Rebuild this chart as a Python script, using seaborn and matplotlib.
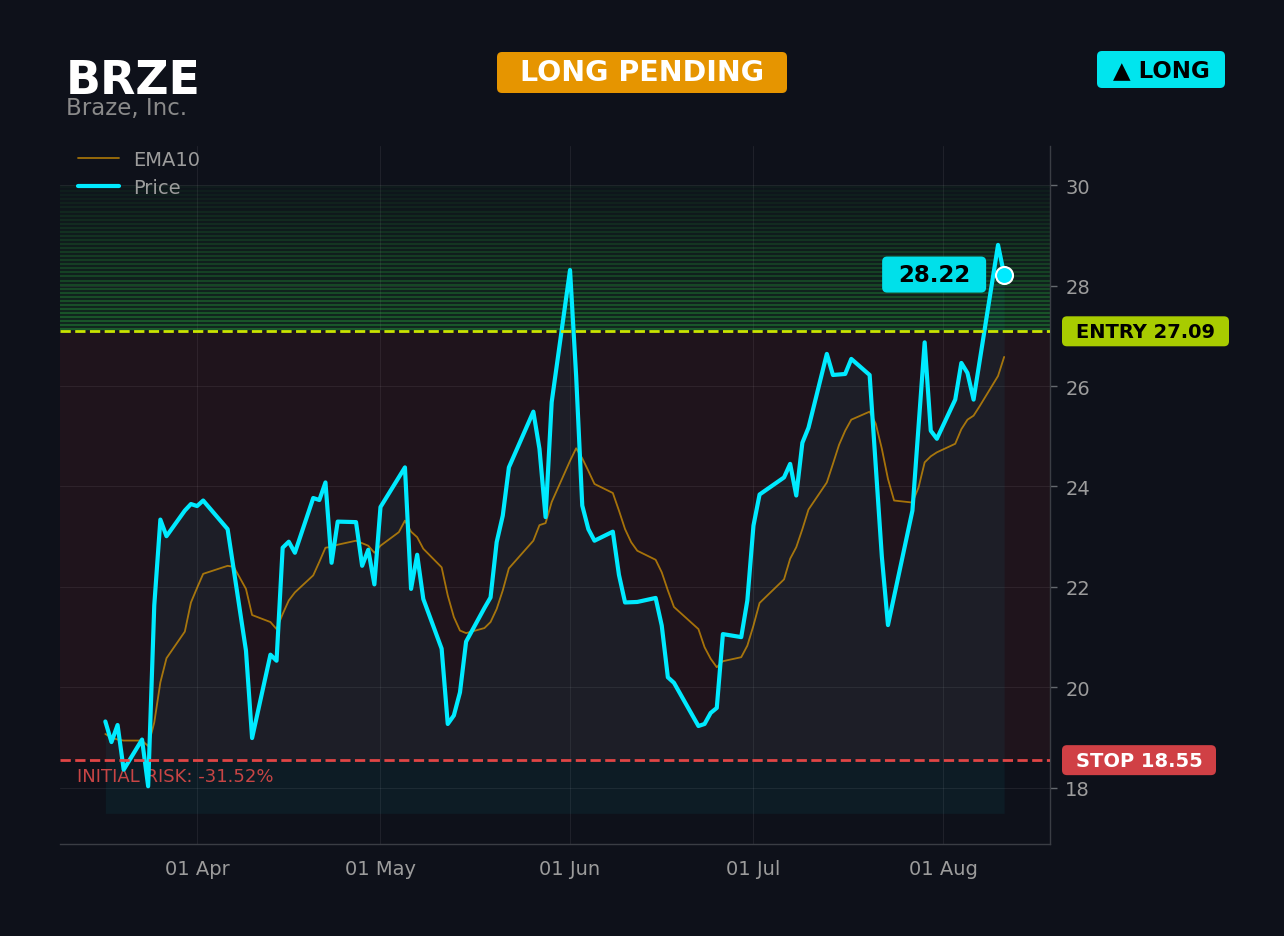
import numpy as np
import pandas as pd
import matplotlib
matplotlib.use("Agg")
import matplotlib.pyplot as plt
import matplotlib.dates as mdates
from matplotlib.patches import FancyBboxPatch
from matplotlib.transforms import IdentityTransform, blended_transform_factory
import seaborn as sns

# --------------------------------------------------
# Data
# --------------------------------------------------
TICKER = "BRZE"
COMPANY = "Braze, Inc."
STATUS = "LONG PENDING"
SIDE = "▲ LONG"
ENTRY = 27.09
STOP = 18.55
TARGET_TOP = 30.0

price_dates = [
    "2026-03-17", "2026-03-18", "2026-03-19", "2026-03-20", "2026-03-23",
    "2026-03-24", "2026-03-25", "2026-03-26", "2026-03-27", "2026-03-30",
    "2026-03-31", "2026-04-01", "2026-04-02", "2026-04-06", "2026-04-09",
    "2026-04-10", "2026-04-13", "2026-04-14", "2026-04-15", "2026-04-16",
    "2026-04-17", "2026-04-20", "2026-04-21", "2026-04-22", "2026-04-23",
    "2026-04-24", "2026-04-27", "2026-04-28", "2026-04-29", "2026-04-30",
    "2026-05-01", "2026-05-05", "2026-05-06", "2026-05-07", "2026-05-08",
    "2026-05-11", "2026-05-12", "2026-05-13", "2026-05-14", "2026-05-15",
    "2026-05-18", "2026-05-19", "2026-05-20", "2026-05-21", "2026-05-22",
    "2026-05-26", "2026-05-27", "2026-05-28", "2026-05-29", "2026-06-01",
    "2026-06-02", "2026-06-03", "2026-06-04", "2026-06-05", "2026-06-08",
    "2026-06-09", "2026-06-10", "2026-06-12", "2026-06-15", "2026-06-16",
    "2026-06-17", "2026-06-18", "2026-06-22", "2026-06-23", "2026-06-24",
    "2026-06-25", "2026-06-26", "2026-06-29", "2026-06-30", "2026-07-01",
    "2026-07-02", "2026-07-06", "2026-07-07", "2026-07-08", "2026-07-09",
    "2026-07-10", "2026-07-13", "2026-07-14", "2026-07-16", "2026-07-17",
    "2026-07-20", "2026-07-22", "2026-07-23", "2026-07-27", "2026-07-29",
    "2026-07-30", "2026-07-31", "2026-08-03", "2026-08-04", "2026-08-05",
    "2026-08-06", "2026-08-10", "2026-08-11",
]
price_values = [
    19.32, 18.91, 19.25, 18.36, 18.96,
    18.03, 21.63, 23.34, 23.01, 23.52,
    23.65, 23.61, 23.72, 23.15, 20.73,
    18.99, 20.65, 20.53, 22.78, 22.90,
    22.68, 23.77, 23.73, 24.08, 22.48,
    23.30, 23.29, 22.42, 22.74, 22.05,
    23.59, 24.38, 21.96, 22.64, 21.76,
    20.77, 19.27, 19.44, 19.90, 20.91,
    21.58, 21.79, 22.89, 23.42, 24.38,
    25.49, 24.75, 23.39, 25.68, 28.31,
    26.20, 23.62, 23.15, 22.92, 23.10,
    22.24, 21.69, 21.70, 21.78, 21.23,
    20.20, 20.09, 19.23, 19.27, 19.49,
    19.59, 21.06, 21.00, 21.73, 23.22,
    23.84, 24.18, 24.45, 23.82, 24.87,
    25.17, 26.64, 26.22, 26.24, 26.54,
    26.22, 22.60, 21.24, 23.52, 26.87,
    25.11, 24.95, 25.73, 26.46, 26.26,
    25.73, 28.81, 28.22,
]

ema_dates = [
    "2026-03-17", "2026-03-18", "2026-03-19", "2026-03-20", "2026-03-23",
    "2026-03-24", "2026-03-25", "2026-03-26", "2026-03-27", "2026-03-30",
    "2026-03-31", "2026-04-01", "2026-04-02", "2026-04-06", "2026-04-07",
    "2026-04-08", "2026-04-09", "2026-04-10", "2026-04-13", "2026-04-14",
    "2026-04-15", "2026-04-16", "2026-04-17", "2026-04-20", "2026-04-21",
    "2026-04-22", "2026-04-23", "2026-04-24", "2026-04-27", "2026-04-28",
    "2026-04-29", "2026-04-30", "2026-05-01", "2026-05-04", "2026-05-05",
    "2026-05-06", "2026-05-07", "2026-05-08", "2026-05-11", "2026-05-12",
    "2026-05-13", "2026-05-14", "2026-05-15", "2026-05-18", "2026-05-19",
    "2026-05-20", "2026-05-21", "2026-05-22", "2026-05-26", "2026-05-27",
    "2026-05-28", "2026-05-29", "2026-06-01", "2026-06-02", "2026-06-03",
    "2026-06-04", "2026-06-05", "2026-06-08", "2026-06-09", "2026-06-10",
    "2026-06-11", "2026-06-12", "2026-06-15", "2026-06-16", "2026-06-17",
    "2026-06-18", "2026-06-22", "2026-06-23", "2026-06-24", "2026-06-25",
    "2026-06-26", "2026-06-29", "2026-06-30", "2026-07-01", "2026-07-02",
    "2026-07-06", "2026-07-07", "2026-07-08", "2026-07-09", "2026-07-10",
    "2026-07-13", "2026-07-14", "2026-07-15", "2026-07-16", "2026-07-17",
    "2026-07-20", "2026-07-21", "2026-07-22", "2026-07-23", "2026-07-24",
    "2026-07-27", "2026-07-28", "2026-07-29", "2026-07-30", "2026-07-31",
    "2026-08-03", "2026-08-04", "2026-08-05", "2026-08-06", "2026-08-07",
    "2026-08-10", "2026-08-11",
]
ema_values = [
    19.07, 19.00, 18.96, 18.94, 18.94,
    18.83, 19.30, 20.10, 20.58, 21.11,
    21.69, 21.98, 22.26, 22.42, 22.40,
    22.18, 21.96, 21.44, 21.30, 21.16,
    21.46, 21.73, 21.89, 22.23, 22.50,
    22.78, 22.80, 22.84, 22.92, 22.87,
    22.82, 22.68, 22.82, 23.09, 23.32,
    23.10, 22.99, 22.76, 22.39, 21.83,
    21.40, 21.13, 21.08, 21.18, 21.30,
    21.56, 21.93, 22.37, 22.92, 23.23,
    23.27, 23.69, 24.51, 24.76, 24.56,
    24.31, 24.05, 23.87, 23.52, 23.15,
    22.89, 22.72, 22.54, 22.29, 21.93,
    21.60, 21.16, 20.80, 20.57, 20.40,
    20.52, 20.60, 20.83, 21.23, 21.68,
    22.15, 22.56, 22.79, 23.15, 23.54,
    24.08, 24.45, 24.83, 25.11, 25.33,
    25.49, 25.25, 24.75, 24.15, 23.72,
    23.68, 23.98, 24.48, 24.60, 24.68,
    24.85, 25.14, 25.33, 25.41, 25.60,
    26.20, 26.58,
]

# --------------------------------------------------
# Style
# --------------------------------------------------
BG = "#0e111a"
CYAN = "#00eaff"
EMA_COLOR = "#f0a500"
ENTRY_COLOR = "#c8e400"
STOP_COLOR = "#e04545"
TEXT_GRAY = "#9c9c9c"
FILL_BASE = 17.49

sns.set_theme(style="dark")
plt.rcParams["font.family"] = ["DejaVu Sans"]

price_df = pd.DataFrame({"date": pd.to_datetime(price_dates), "price": price_values})
ema_df = pd.DataFrame({"date": pd.to_datetime(ema_dates), "ema": ema_values})

W, H = 1284, 937
fig = plt.figure(figsize=(W / 100, H / 100), dpi=100, facecolor=BG)
ax = fig.add_axes([60 / W, 92 / H, 990 / W, 698 / H])
ax.set_facecolor(BG)

ax.set_xlim(pd.Timestamp("2026-03-09 14:00"), pd.Timestamp("2026-08-18 12:00"))
ax.set_ylim(16.88, 30.78)

# zones
ax.axhspan(STOP, ENTRY, color="#ff4040", alpha=0.07, lw=0, zorder=0.6)
n_stripes = 36
step = (TARGET_TOP - ENTRY) / n_stripes
for i in range(n_stripes):
    frac = 1 - i / n_stripes
    y0 = ENTRY + i * step
    ax.axhspan(y0, y0 + step, color="#2fd046", alpha=0.02 + 0.10 * frac, lw=0, zorder=0.6)
    ax.axhline(y0 + step * 0.5, color="#2fd046", alpha=0.03 + 0.30 * frac, lw=1.3, zorder=0.7)

# area under price
ax.fill_between(price_df["date"], price_df["price"], FILL_BASE,
                color=CYAN, alpha=0.05, lw=0, zorder=1)

# lines
sns.lineplot(data=ema_df, x="date", y="ema", ax=ax, color=EMA_COLOR, alpha=0.65,
             lw=1.3, label="EMA10", zorder=3)
sns.lineplot(data=price_df, x="date", y="price", ax=ax, color=CYAN,
             lw=3, label="Price", zorder=4)

ax.axhline(ENTRY, color=ENTRY_COLOR, ls="--", lw=2, zorder=5)
ax.axhline(STOP, color=STOP_COLOR, ls="--", lw=2, zorder=5)

last_date = price_df["date"].iloc[-1]
last_price = price_df["price"].iloc[-1]
ax.scatter([last_date], [last_price], s=150, color=CYAN, edgecolor="white",
           linewidth=1.5, zorder=7)

# risk text
risk = (STOP - ENTRY) / ENTRY * 100
trans = blended_transform_factory(ax.transAxes, ax.transData)
ax.annotate(f"INITIAL RISK: {risk:.2f}%", xy=(0.017, STOP), xycoords=trans,
            xytext=(0, -5), textcoords="offset points", va="top", ha="left",
            color="#c84545", fontsize=13)

# axes cosmetics
ax.set_xlabel("")
ax.set_ylabel("")
ax.yaxis.tick_right()
ax.set_yticks(np.arange(18, 31, 2))
ax.xaxis.set_major_locator(mdates.MonthLocator())
ax.xaxis.set_major_formatter(mdates.DateFormatter("%d %b"))
ax.tick_params(axis="both", colors="#666a70", labelcolor=TEXT_GRAY,
               labelsize=14, length=5, width=1, pad=6)
ax.tick_params(axis="y", left=False, right=True)
ax.grid(True, color="white", alpha=0.07, lw=0.8)
for side in ["left", "top"]:
    ax.spines[side].set_visible(False)
for side in ["right", "bottom"]:
    ax.spines[side].set_visible(True)
    ax.spines[side].set_color("#3a3d44")
    ax.spines[side].set_linewidth(1)

leg = ax.legend(loc="upper left", bbox_to_anchor=(0, 1.019), frameon=False,
                fontsize=14, labelcolor=TEXT_GRAY, handlelength=2.15,
                handletextpad=0.7, labelspacing=0.45)

# --------------------------------------------------
# Badges and header text (display pixel coordinates)
# --------------------------------------------------
ident = IdentityTransform()


def badge(cx, cy, w, h, text, fc, tc, size):
    fig.add_artist(FancyBboxPatch((cx - w / 2, cy - h / 2), w, h,
                                  boxstyle="round,pad=0,rounding_size=5",
                                  fc=fc, ec="none", transform=ident, zorder=8))
    fig.text(cx, cy, text, transform=ident,
             ha="center", va="center", color=tc, fontsize=size,
             fontweight="bold", zorder=9)


fig.text(66, H - 94.5, TICKER, transform=ident, va="baseline", ha="left",
         color="white", fontsize=33, fontweight="bold")
fig.text(66, H - 115, COMPANY, transform=ident, va="baseline", ha="left",
         color="#8a8a8a", fontsize=16.5)

badge(642, H - 73.5, 290, 41, STATUS, "#e69500", "white", 20.5)
badge(1161, H - 70.5, 128, 37, SIDE, "#00e5ee", "black", 16.5)

entry_y = ax.transData.transform((0, ENTRY))[1]
stop_y = ax.transData.transform((0, STOP))[1]
badge(1145.5, entry_y, 167, 30, f"ENTRY {ENTRY:.2f}", "#a8cc00", "black", 14)
badge(1139, stop_y, 154, 30, f"STOP {STOP:.2f}", "#d04045", "white", 14)

lx, ly = ax.transData.transform((mdates.date2num(last_date), last_price))
badge(lx - 70, ly, 104, 36, f"{last_price:.2f}", "#00e0ea", "black", 16.5)

fig.savefig("out.png", dpi=100, facecolor=BG)
